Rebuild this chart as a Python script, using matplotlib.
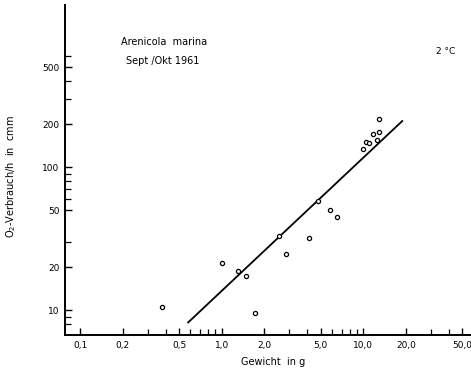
import matplotlib
matplotlib.use("Agg")
import matplotlib.pyplot as plt
import numpy as np
from matplotlib.ticker import FixedLocator, NullFormatter

# Data (weight in g, O2 consumption in cmm/h)
weight = [0.377, 1.01, 1.30, 1.49, 1.71, 2.53, 2.82, 4.14, 4.77, 5.80, 6.53,
          10.0, 10.5, 11.0, 12.4, 11.7, 12.8, 12.9]
oxygen = [10.5, 21.4, 18.7, 17.4, 9.6, 32.9, 24.6, 31.9, 57.8, 50.0, 44.7,
          133, 150, 148, 155, 171, 175, 216]
line_x = [0.578, 18.8]
line_y = [8.2, 209.8]

x_major = [0.1, 0.2, 0.5, 1.0, 2.0, 5.0, 10.0, 20.0, 50.0]
x_labels = ["0,1", "0,2", "0,5", "1,0", "2,0", "5,0", "10,0", "20,0", "50,0"]
x_minor = [0.3, 0.4, 0.6, 0.7, 0.8, 0.9, 3, 4, 6, 7, 8, 9, 30, 40]
y_major = [10, 20, 50, 100, 200, 500]
y_labels = ["10", "20", "50", "100", "200", "500"]
y_minor = [8, 9, 30, 60, 70, 80, 90, 300, 400, 600]

W, H = 471, 372
fig = plt.figure(figsize=(W / 100, H / 100), dpi=100)
ax = fig.add_axes([65 / W, (H - 335) / H, (W - 65) / W, (335 - 5) / H])
ax.set_xscale("log")
ax.set_yscale("log")
ax.set_xlim(0.078, 57.5)
ax.set_ylim(6.7, 1358)

ax.plot(line_x, line_y, color="black", lw=1.3, zorder=2)
ax.scatter(weight, oxygen, s=9, facecolor="white", edgecolor="black",
           linewidths=0.9, zorder=3)

for s in ["top", "right"]:
    ax.spines[s].set_visible(False)
for s in ["left", "bottom"]:
    ax.spines[s].set_linewidth(1.4)

ax.xaxis.set_major_locator(FixedLocator(x_major))
ax.xaxis.set_minor_locator(FixedLocator(x_minor))
ax.yaxis.set_major_locator(FixedLocator(y_major))
ax.yaxis.set_minor_locator(FixedLocator(y_minor))
ax.set_xticklabels(x_labels)
ax.set_yticklabels(y_labels)
ax.xaxis.set_minor_formatter(NullFormatter())
ax.yaxis.set_minor_formatter(NullFormatter())
ax.tick_params(which="major", direction="in", length=5, width=1.0,
               labelsize=6.5, pad=4)
ax.tick_params(which="minor", direction="in", length=4, width=0.9)

ax.set_xlabel("Gewicht  in g", fontsize=7)
ax.xaxis.set_label_coords((273 - 65) / (W - 65), -(357 - 335) / 330)
ax.set_ylabel("O$_2$-Verbrauch/h  in  cmm", fontsize=7)
ax.yaxis.set_label_coords(-(65 - 18) / (W - 65), (335 - 177) / 330)

fig.text(164 / W, 1 - 42 / H, "Arenicola  marina", fontsize=7,
         ha="center", va="center")
fig.text(163 / W, 1 - 61 / H, "Sept /Okt 1961", fontsize=7,
         ha="center", va="center")
fig.text(446 / W, 1 - 52 / H, "2 °C", fontsize=6.5, ha="center", va="center")

fig.savefig("out.png", dpi=100)
